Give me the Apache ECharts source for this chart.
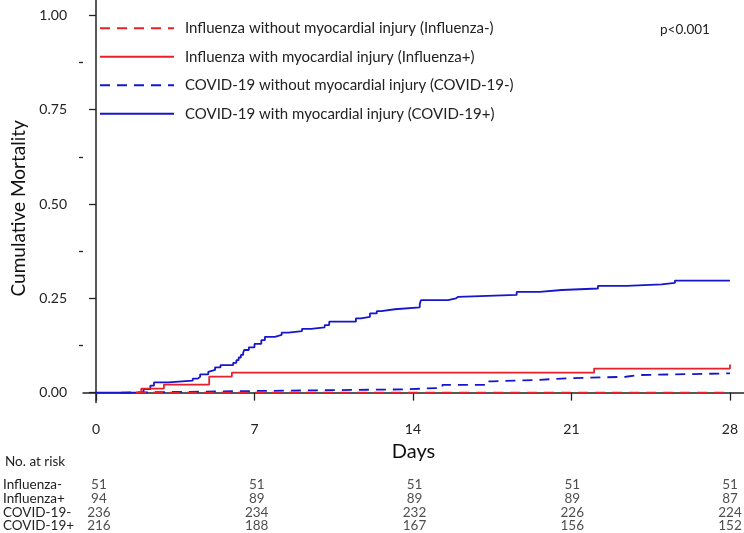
<!DOCTYPE html>
<html>
<head>
<meta charset="utf-8">
<script src="https://cdn.jsdelivr.net/npm/echarts@6/dist/echarts.min.js"></script>
<style>
  html, body { margin: 0; padding: 0; background: #fff; }
  #chart { width: 744px; height: 533px; }
</style>
</head>
<body>
<div id="chart"></div>
<script>
// curve data (days, cumulative mortality), step functions
const fluNegTimes = [1.77, 28]
const fluNegValues = [0, 0]
const fluPosTimes = [1.77, 2.0, 3.0, 5.0, 6.0, 22.0, 28]
const fluPosValues = [0, 0.0106, 0.0213, 0.0426, 0.0532, 0.0638, 0.0745]
const covNegTimes = [1.1, 1.2, 6.9, 13.6, 15.3, 17.2, 17.5, 19.6, 20.8, 23.4, 24.0, 28]
const covNegValues = [0, 0.0042, 0.0085, 0.0127, 0.0205, 0.0297, 0.0339, 0.038, 0.042, 0.0466, 0.051, 0.051]
const covPosTimes = [0, 2.1, 2.4, 2.56, 3.2, 4.27, 4.5, 4.6, 4.96, 5.03, 5.26, 5.5, 6.06, 6.2, 6.3,
  6.4, 6.5, 6.55, 6.75, 7.0, 7.3, 7.46, 7.9, 8.2, 8.5, 9.1, 9.5, 10.1, 10.3, 11.48, 11.7, 12.1,
  12.4, 12.6, 13.2, 14.3, 14.35, 15.55, 15.9, 16.0, 18.58, 19.6, 20.57, 22.17, 23.44, 24.98, 25.57, 28]
const covPosValues = [0, 0.0093, 0.0185, 0.027, 0.0316, 0.037, 0.042, 0.0485, 0.055, 0.06, 0.067, 0.073,
  0.079, 0.086, 0.093, 0.1, 0.106, 0.113, 0.12, 0.129, 0.139, 0.148, 0.153, 0.159, 0.163, 0.169, 0.173,
  0.179, 0.188, 0.197, 0.201, 0.21, 0.216, 0.221, 0.226, 0.235, 0.245, 0.25, 0.254, 0.259, 0.267, 0.272,
  0.276, 0.283, 0.287, 0.291, 0.297, 0.297]

const legendNames = [
  'Influenza without myocardial injury (Influenza-)',
  'Influenza with myocardial injury (Influenza+)',
  'COVID-19 without myocardial injury (COVID-19-)',
  'COVID-19 with myocardial injury (COVID-19+)'
]

// axis ticks
const dayTicks = [0, 7, 14, 21, 28]
const mortTicks = [0, 0.25, 0.5, 0.75, 1]
const mortMinorTicks = [0.125, 0.375, 0.625, 0.875]

// number at risk table
const riskGroups = ['Influenza-', 'Influenza+', 'COVID-19-', 'COVID-19+']
const riskFluNeg = [51, 51, 51, 51, 51]
const riskFluPos = [94, 89, 89, 89, 87]
const riskCovNeg = [236, 234, 232, 226, 224]
const riskCovPos = [216, 188, 167, 156, 152]

const RED = '#e8202a'
const BLUE = '#1616cc'
const FONT = 'Lato'
const xMin = -0.574
const xMax = 28.62
const yMin = -0.0265
const yMax = 1.0408

const pairs = (t, v) => t.map((x, i) => [x, v[i]])

const riskRows = [riskFluNeg, riskFluPos, riskCovNeg, riskCovPos]
const riskData = []
riskRows.forEach((row, r) => {
  row.forEach((n, i) => riskData.push([dayTicks[i], riskGroups[r], n]))
})

const curve = (name, data, color, type) => ({
  name,
  type: 'line',
  step: 'end',
  data,
  symbol: 'none',
  xAxisIndex: 0,
  yAxisIndex: 0,
  lineStyle: { color, width: 1.8, type: type === 'dashed' ? [10, 7] : 'solid' },
  itemStyle: { color },
  animation: false
})

const chart = echarts.init(document.getElementById('chart'))
chart.setOption({
  backgroundColor: '#fff',
  animation: false,
  textStyle: { fontFamily: FONT },
  title: {
    text: 'No. at risk',
    left: 0,
    top: 450,
    textStyle: { fontSize: 13.5, fontWeight: 'normal', color: '#222', fontFamily: FONT }
  },
  graphic: [{
    type: 'text',
    left: 660,
    top: 23,
    style: { text: 'p<0.001', fontSize: 13.5, fill: '#222', fontFamily: FONT }
  }],
  legend: {
    data: legendNames,
    orient: 'vertical',
    left: 99,
    top: 20.7,
    padding: 0,
    itemWidth: 74,
    itemHeight: 14,
    itemGap: 13.5,
    itemStyle: { opacity: 0 },
    textStyle: { fontSize: 15, color: '#222', fontFamily: FONT, padding: [0, 0, 0, 6] }
  },
  grid: [
    { left: 83, right: 0, top: 0, bottom: 130.4 },
    { left: 83, right: 0, top: 477.5, height: 56 }
  ],
  xAxis: [{
    type: 'value',
    gridIndex: 0,
    min: xMin,
    max: xMax,
    name: 'Days',
    nameLocation: 'middle',
    nameGap: 38,
    nameTextStyle: { fontSize: 20, color: '#111', fontFamily: FONT },
    axisLine: { lineStyle: { color: '#222', width: 1.5 } },
    axisTick: { customValues: dayTicks, length: 8, lineStyle: { color: '#222', width: 1.3 } },
    axisLabel: { customValues: dayTicks, margin: 20, fontSize: 14, color: '#222', fontFamily: FONT },
    splitLine: { show: false }
  }, {
    type: 'value',
    gridIndex: 1,
    min: xMin,
    max: xMax,
    show: false
  }],
  yAxis: [{
    type: 'value',
    gridIndex: 0,
    min: yMin,
    max: yMax,
    name: 'Cumulative Mortality',
    nameLocation: 'middle',
    nameGap: 43,
    nameTextStyle: { fontSize: 19, color: '#111', fontFamily: FONT, padding: [0, 14, 0, 0] },
    axisLine: { show: true, lineStyle: { color: '#222', width: 1.5 } },
    axisTick: { show: true, customValues: mortTicks, length: 7, lineStyle: { color: '#222', width: 1.3 } },
    axisLabel: {
      customValues: mortTicks,
      margin: 16,
      fontSize: 14,
      color: '#222',
      fontFamily: FONT,
      formatter: v => v.toFixed(2)
    },
    splitLine: { show: false }
  }, {
    type: 'value',
    gridIndex: 0,
    position: 'left',
    min: yMin,
    max: yMax,
    axisLine: { show: false },
    axisTick: { show: true, customValues: mortMinorTicks, length: 4, lineStyle: { color: '#222', width: 1.3 } },
    axisLabel: { show: false },
    splitLine: { show: false }
  }, {
    type: 'category',
    gridIndex: 1,
    data: riskGroups,
    inverse: true,
    axisLine: { show: false },
    axisTick: { show: false },
    axisLabel: { interval: 0, align: 'left', margin: 83, fontSize: 13.5, color: '#222', fontFamily: FONT },
    splitLine: { show: false }
  }],
  series: [
    curve(legendNames[3], pairs(covPosTimes, covPosValues), BLUE, 'solid'),
    curve(legendNames[2], pairs(covNegTimes, covNegValues), BLUE, 'dashed'),
    curve(legendNames[1], pairs(fluPosTimes, fluPosValues), RED, 'solid'),
    curve(legendNames[0], pairs(fluNegTimes, fluNegValues), RED, 'dashed'),
    {
      type: 'scatter',
      xAxisIndex: 1,
      yAxisIndex: 2,
      data: riskData,
      symbolSize: 1,
      itemStyle: { color: 'rgba(0,0,0,0)' },
      silent: true,
      labelLayout: { hideOverlap: false },
      label: {
        show: true,
        position: 'inside',
        formatter: p => String(p.value[2]),
        fontSize: 13.5,
        color: '#222',
        fontFamily: FONT
      }
    }
  ]
})
window.addEventListener('resize', () => chart.resize())
</script>
</body>
</html>
